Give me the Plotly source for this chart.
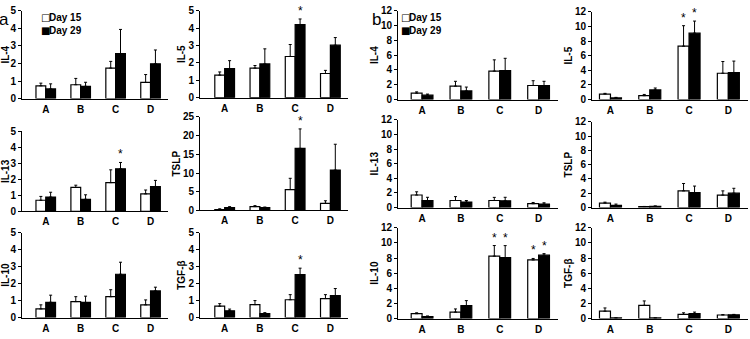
import plotly.graph_objects as go

categories = ["A", "B", "C", "D"]
series_names = ["Day 15", "Day 29"]
series_swatches = ["□", "■"]

# ---------- panel a ----------
a_il4_d15 = [0.73, 0.79, 1.74, 0.92]
a_il4_d15_err = [0.15, 0.36, 0.38, 0.45]
a_il4_d29 = [0.55, 0.70, 2.56, 1.98]
a_il4_d29_err = [0.29, 0.23, 1.38, 0.79]
a_il4_sig15 = [0, 0, 0, 0]
a_il4_sig29 = [0, 0, 0, 0]

a_il5_d15 = [1.30, 1.70, 2.37, 1.39]
a_il5_d15_err = [0.18, 0.15, 0.69, 0.18]
a_il5_d29 = [1.67, 1.94, 4.20, 3.02]
a_il5_d29_err = [0.46, 0.87, 0.33, 0.44]
a_il5_sig15 = [0, 0, 0, 0]
a_il5_sig29 = [0, 0, 1, 0]

a_il13_d15 = [0.70, 1.50, 1.80, 1.10]
a_il13_d15_err = [0.24, 0.14, 0.80, 0.24]
a_il13_d29 = [0.90, 0.76, 2.66, 1.56]
a_il13_d29_err = [0.30, 0.28, 0.40, 0.38]
a_il13_sig15 = [0, 0, 0, 0]
a_il13_sig29 = [0, 0, 1, 0]

a_tslp_d15 = [0.26, 1.03, 5.6, 1.9]
a_tslp_d15_err = [0.20, 0.27, 3.0, 0.7]
a_tslp_d29 = [0.78, 0.78, 16.6, 10.8]
a_tslp_d29_err = [0.25, 0.15, 5.2, 6.9]
a_tslp_sig15 = [0, 0, 0, 0]
a_tslp_sig29 = [0, 0, 1, 0]

a_il10_d15 = [0.51, 0.94, 1.23, 0.75]
a_il10_d15_err = [0.24, 0.29, 0.41, 0.29]
a_il10_d29 = [0.90, 0.89, 2.55, 1.57]
a_il10_d29_err = [0.42, 0.37, 0.71, 0.22]
a_il10_sig15 = [0, 0, 0, 0]
a_il10_sig29 = [0, 0, 0, 0]

a_tgfb_d15 = [0.67, 0.76, 1.05, 1.12]
a_tgfb_d15_err = [0.15, 0.24, 0.30, 0.23]
a_tgfb_d29 = [0.40, 0.23, 2.53, 1.29]
a_tgfb_d29_err = [0.10, 0.06, 0.38, 0.42]
a_tgfb_sig15 = [0, 0, 0, 0]
a_tgfb_sig29 = [0, 0, 1, 0]

# ---------- panel b ----------
b_il4_d15 = [0.87, 1.82, 3.85, 1.90]
b_il4_d15_err = [0.17, 0.65, 1.52, 0.65]
b_il4_d29 = [0.60, 1.17, 3.90, 1.90]
b_il4_d29_err = [0.14, 0.52, 1.68, 0.57]
b_il4_sig15 = [0, 0, 0, 0]
b_il4_sig29 = [0, 0, 0, 0]

b_il5_d15 = [0.75, 0.53, 7.30, 3.60]
b_il5_d15_err = [0.10, 0.17, 2.80, 1.60]
b_il5_d29 = [0.22, 1.32, 9.08, 3.70]
b_il5_d29_err = [0.08, 0.26, 1.65, 1.56]
b_il5_sig15 = [0, 0, 1, 0]
b_il5_sig29 = [0, 0, 1, 0]

b_il13_d15 = [1.72, 0.97, 0.97, 0.53]
b_il13_d15_err = [0.44, 0.53, 0.43, 0.17]
b_il13_d29 = [0.97, 0.75, 0.93, 0.48]
b_il13_d29_err = [0.44, 0.22, 0.48, 0.18]
b_il13_sig15 = [0, 0, 0, 0]
b_il13_sig29 = [0, 0, 0, 0]

b_tslp_d15 = [0.63, 0.13, 2.34, 1.75]
b_tslp_d15_err = [0.13, 0.03, 1.03, 0.59]
b_tslp_d29 = [0.31, 0.18, 2.11, 2.02]
b_tslp_d29_err = [0.18, 0.05, 0.90, 0.68]
b_tslp_sig15 = [0, 0, 0, 0]
b_tslp_sig29 = [0, 0, 0, 0]

b_il10_d15 = [0.64, 0.85, 8.26, 7.75]
b_il10_d15_err = [0.12, 0.42, 1.40, 0.20]
b_il10_d29 = [0.25, 1.70, 8.05, 8.39]
b_il10_d29_err = [0.09, 0.67, 1.60, 0.20]
b_il10_sig15 = [0, 0, 1, 1]
b_il10_sig29 = [0, 0, 1, 1]

b_tgfb_d15 = [0.97, 1.74, 0.55, 0.47]
b_tgfb_d15_err = [0.43, 0.59, 0.21, 0.05]
b_tgfb_d29 = [0.08, 0.08, 0.64, 0.50]
b_tgfb_d29_err = [0.0, 0.0, 0.21, 0.05]
b_tgfb_sig15 = [0, 0, 0, 0]
b_tgfb_sig29 = [0, 0, 0, 0]

W, H = 750, 339
FONT = "Arial, Liberation Sans, sans-serif"
BARGAP = 0.44

# title, d15, err15, d29, err29, sig15, sig29, ymax, dtick, x-px (axis, end), y-px (top, zero), xstart, legend-px
panels = [
    ("IL-4", a_il4_d15, a_il4_d15_err, a_il4_d29, a_il4_d29_err, a_il4_sig15, a_il4_sig29, 5, 1, (22, 168), (5, 96), -0.68, (39, 12)),
    ("IL-5", a_il5_d15, a_il5_d15_err, a_il5_d29, a_il5_d29_err, a_il5_sig15, a_il5_sig29, 5, 1, (200, 348), (5, 95), -0.7, None),
    ("IL-13", a_il13_d15, a_il13_d15_err, a_il13_d29, a_il13_d29_err, a_il13_sig15, a_il13_sig29, 5, 1, (22, 168), (130, 213), -0.68, None),
    ("TSLP", a_tslp_d15, a_tslp_d15_err, a_tslp_d29, a_tslp_d29_err, a_tslp_sig15, a_tslp_sig29, 25, 5, (200, 348), (115, 212), -0.7, None),
    ("IL-10", a_il10_d15, a_il10_d15_err, a_il10_d29, a_il10_d29_err, a_il10_sig15, a_il10_sig29, 5, 1, (22, 168), (235, 323), -0.68, None),
    ("TGF-β", a_tgfb_d15, a_tgfb_d15_err, a_tgfb_d29, a_tgfb_d29_err, a_tgfb_sig15, a_tgfb_sig29, 5, 1, (200, 348), (235, 323), -0.7, None),
    ("IL-4", b_il4_d15, b_il4_d15_err, b_il4_d29, b_il4_d29_err, b_il4_sig15, b_il4_sig29, 12, 2, (398, 558), (5, 97), -0.62, (399, 12)),
    ("IL-5", b_il5_d15, b_il5_d15_err, b_il5_d29, b_il5_d29_err, b_il5_sig15, b_il5_sig29, 12, 2, (592, 748), (6, 97), -0.47, None),
    ("IL-13", b_il13_d15, b_il13_d15_err, b_il13_d29, b_il13_d29_err, b_il13_sig15, b_il13_sig29, 12, 2, (398, 558), (118, 209), -0.62, None),
    ("TSLP", b_tslp_d15, b_tslp_d15_err, b_tslp_d29, b_tslp_d29_err, b_tslp_sig15, b_tslp_sig29, 12, 2, (592, 748), (120, 209), -0.47, None),
    ("IL-10", b_il10_d15, b_il10_d15_err, b_il10_d29, b_il10_d29_err, b_il10_sig15, b_il10_sig29, 12, 2, (398, 558), (230, 324), -0.62, None),
    ("TGF-β", b_tgfb_d15, b_tgfb_d15_err, b_tgfb_d29, b_tgfb_d29_err, b_tgfb_sig15, b_tgfb_sig29, 12, 2, (592, 748), (230, 324), -0.47, None),
]

fig = go.Figure()
annotations = []
layout_axes = {}
tickfont = dict(family=FONT, size=10, color="black", weight="bold")
legfont = dict(family=FONT, size=10, color="black", weight="bold")

for i, (title, d15, e15, d29, e29, s15, s29, ymax, dtick, (x0, x1), (yt, yb), xs, leg) in enumerate(panels):
    n = i + 1
    xa = "x" if n == 1 else f"x{n}"
    ya = "y" if n == 1 else f"y{n}"
    xkey = "xaxis" if n == 1 else f"xaxis{n}"
    ykey = "yaxis" if n == 1 else f"yaxis{n}"
    for name, vals, errs, fill in ((series_names[0], d15, e15, "white"), (series_names[1], d29, e29, "black")):
        fig.add_trace(go.Bar(
            x=categories, y=vals, name=name, xaxis=xa, yaxis=ya,
            marker=dict(color=fill, line=dict(color="black", width=1.2)),
            error_y=dict(type="data", array=errs, arrayminus=[0] * len(errs), symmetric=False,
                         color="black", thickness=1, width=1.5),
            showlegend=False,
        ))
    off = (1 - BARGAP) / 4
    for flags, vals, errs, dx in ((s15, d15, e15, -off), (s29, d29, e29, off)):
        for j, f in enumerate(flags):
            if f:
                annotations.append(dict(x=j + dx, y=vals[j] + errs[j], xref=xa, yref=ya, text="*",
                                        showarrow=False, yanchor="bottom", yshift=-1,
                                        font=dict(family=FONT, size=12, color="black")))
    if leg:
        lx, ly = leg
        for k, (sw, nm) in enumerate(zip(series_swatches, series_names)):
            yy = 1 - (ly + 13 * k) / H
            annotations.append(dict(x=lx / W, y=yy, xref="paper", yref="paper", text=sw,
                                    showarrow=False, xanchor="left", yanchor="middle",
                                    font=dict(family="DejaVu Sans", size=10, color="black")))
            annotations.append(dict(x=(lx + 8) / W, y=yy, xref="paper", yref="paper", text=nm,
                                    showarrow=False, xanchor="left", yanchor="middle", font=legfont))
    layout_axes[xkey] = dict(
        domain=[x0 / W, x1 / W], anchor=ya, type="category", range=[xs, 3.5],
        showline=True, linecolor="black", linewidth=1, ticks="", showgrid=False,
        tickfont=tickfont, ticklabelstandoff=1, fixedrange=True,
    )
    layout_axes[ykey] = dict(
        domain=[1 - yb / H, 1 - yt / H], anchor=xa, range=[0, ymax], dtick=dtick, tick0=0,
        showline=True, linecolor="black", linewidth=1, ticks="outside", ticklen=3,
        tickcolor="black", showgrid=False, zeroline=False, tickfont=tickfont,
        title=dict(text=title, font=dict(family=FONT, size=10, color="black", weight="bold"), standoff=0),
    )

annotations.append(dict(x=-2 / W, y=1 - 3 / H, xref="paper", yref="paper", text="a", showarrow=False,
                        xanchor="left", yanchor="top", borderpad=0,
                        font=dict(family=FONT, size=17, color="black")))
annotations.append(dict(x=371 / W, y=1 - 3 / H, xref="paper", yref="paper", text="b", showarrow=False,
                        xanchor="left", yanchor="top", borderpad=0,
                        font=dict(family=FONT, size=17, color="black")))

fig.update_layout(
    width=W, height=H, margin=dict(l=0, r=0, t=0, b=0),
    paper_bgcolor="white", plot_bgcolor="white",
    barmode="group", bargap=BARGAP, bargroupgap=0,
    font=dict(family=FONT, color="black"),
    showlegend=False,
    annotations=annotations,
    **layout_axes,
)

fig.write_html("out.html")
